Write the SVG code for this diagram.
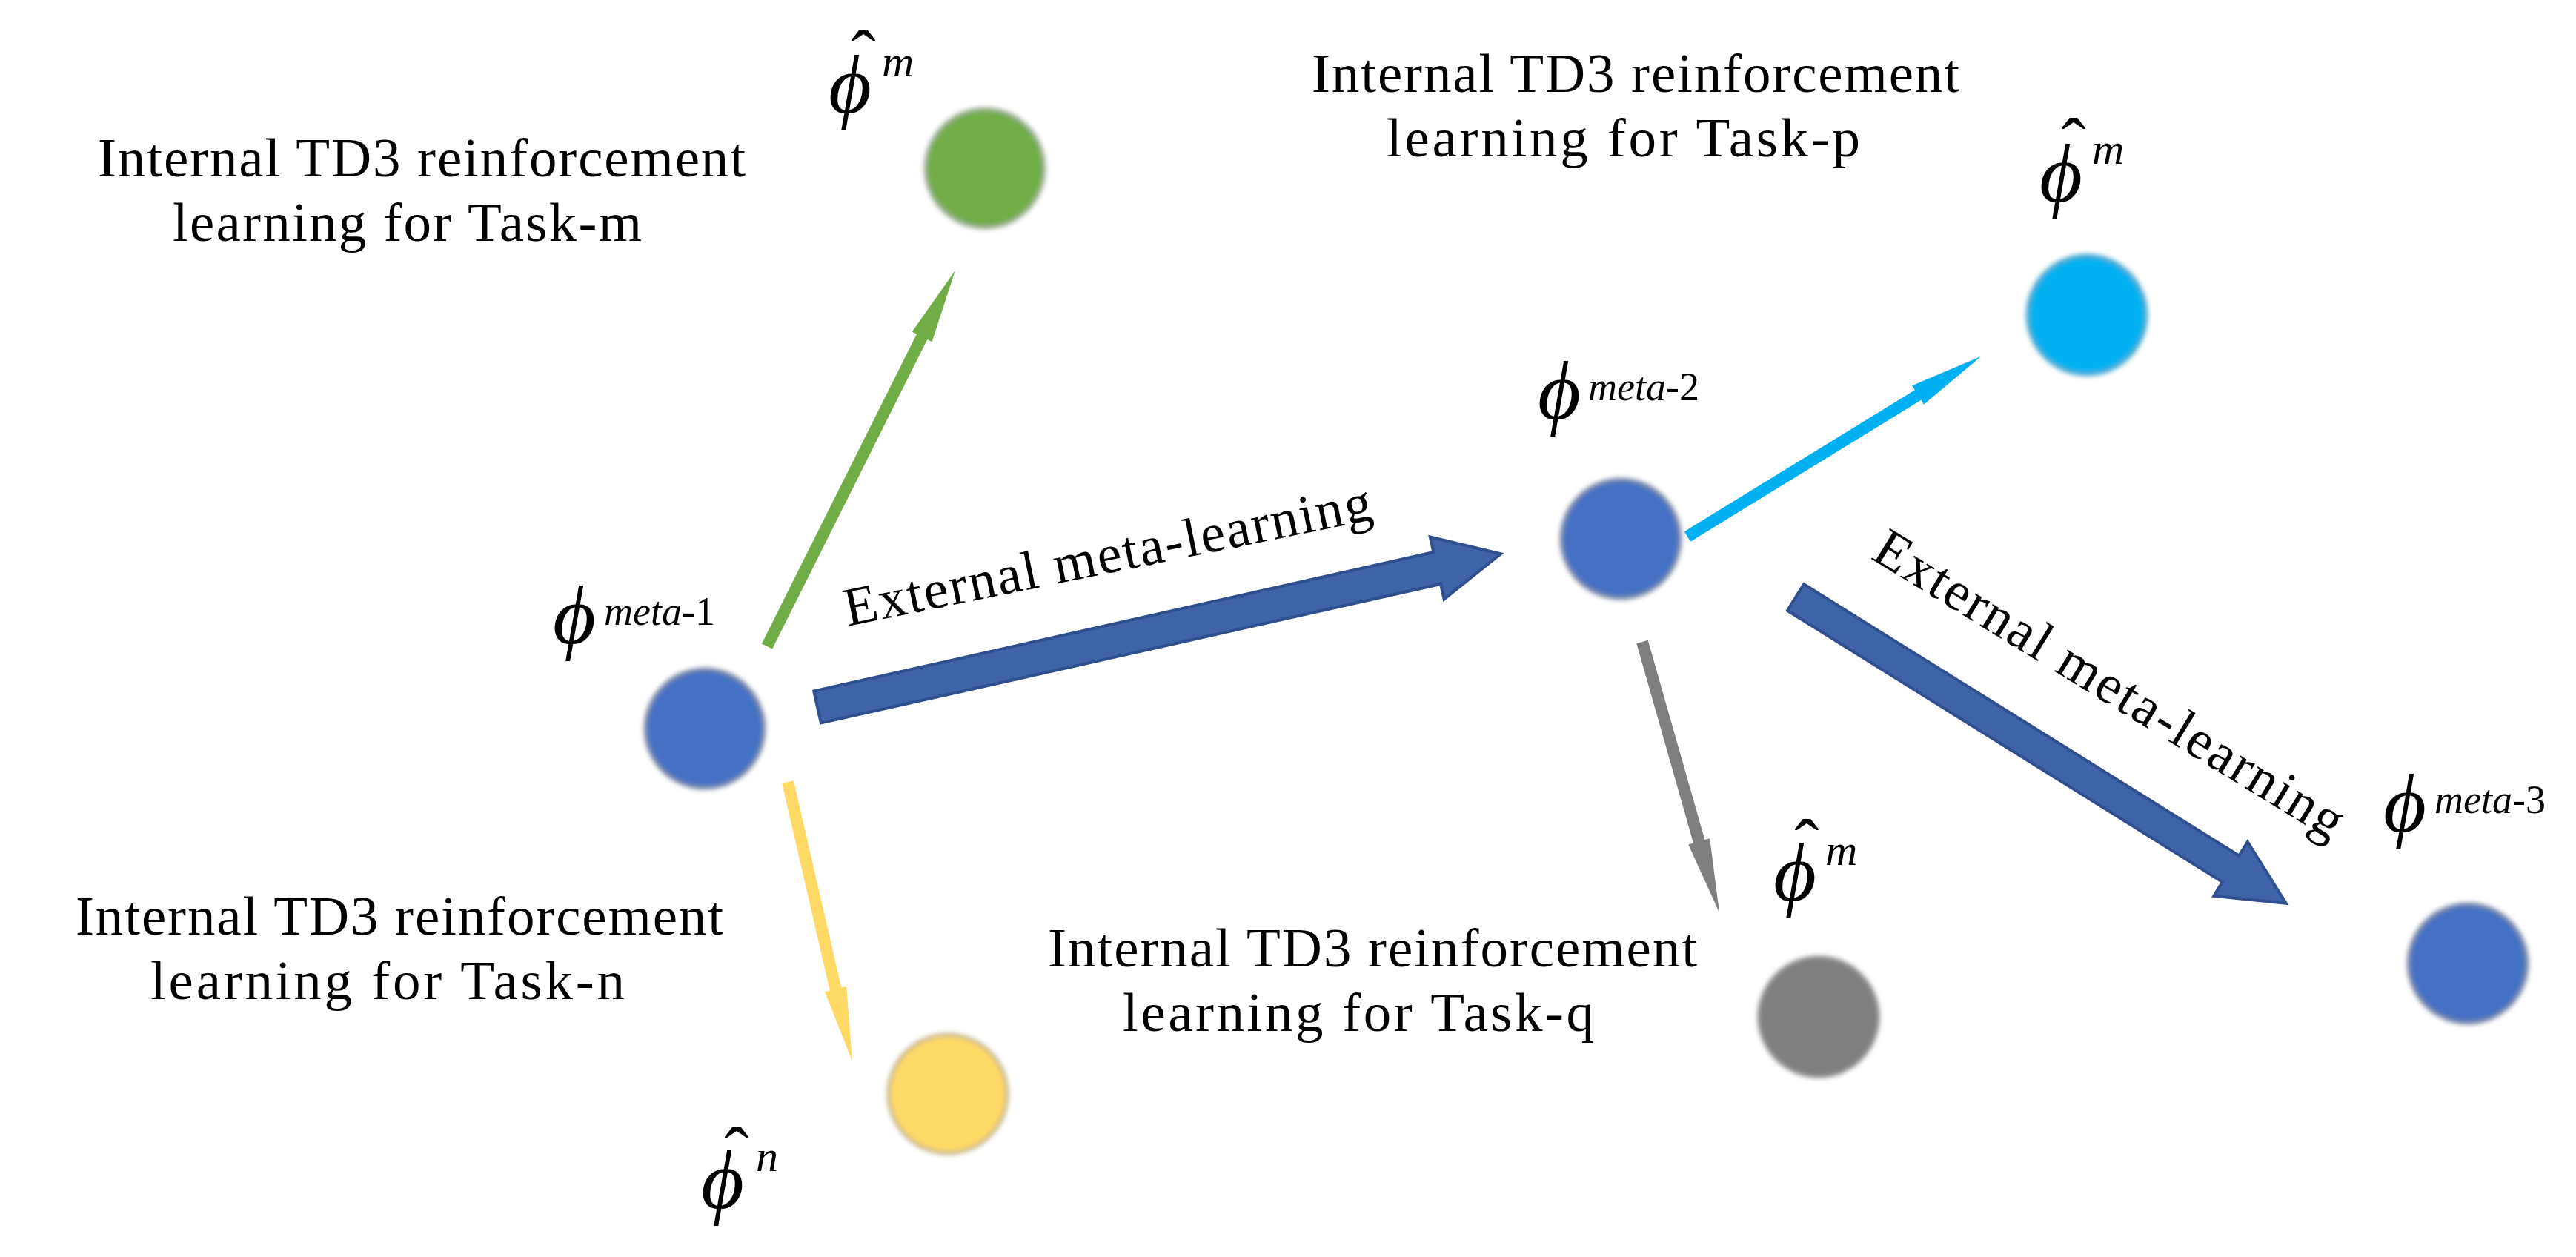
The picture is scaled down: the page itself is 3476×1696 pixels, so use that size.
<svg xmlns="http://www.w3.org/2000/svg" width="3476" height="1696" viewBox="0 0 3476 1696">
<defs>
<filter id="soft" x="-25%" y="-25%" width="150%" height="150%"><feGaussianBlur stdDeviation="3"/></filter>
<style>
.txt{font-family:"Liberation Serif","Times New Roman",serif;font-size:75px;fill:#000}
.ext{font-family:"Liberation Serif","Times New Roman",serif;font-size:74px;fill:#000}
.phi{font-family:"Liberation Serif","DejaVu Serif",serif;font-style:italic;font-size:112px;fill:#000}
.hat{font-style:normal;font-size:100px;text-anchor:middle}
.sup{font-style:italic;font-size:54px}
.supm{font-style:italic;font-size:60px}
.up{font-style:normal}
.big{fill:#3f63a9;stroke:#2f4f8e;stroke-width:4;stroke-linejoin:miter}
.node{filter:url(#soft);stroke-width:5}
</style>
</defs>
<rect width="3476" height="1696" fill="#fff"/>

<g id="connectors">
  <polygon fill="#70ad47" transform="translate(1035,872) rotate(-63.4)" points="0,-8 467,-8 467,-15 567,0 467,15 467,8 0,8"/>
  <polygon fill="#ffd966" transform="translate(1063,1055) rotate(77)" points="0,-8 287,-8 287,-15 387,0 287,15 287,8 0,8"/>
  <polygon fill="#00b0f0" transform="translate(2277,724) rotate(-31.55)" points="0,-8 365,-8 365,-15 465,0 365,15 365,8 0,8"/>
  <polygon fill="#7f7f7f" transform="translate(2216,866) rotate(74.1)" points="0,-8 280,-8 280,-15 380,0 280,15 280,8 0,8"/>
  <polygon class="big" transform="translate(1103,954) rotate(-12.64)" points="0,-22 857,-22 857,-43 945,0 857,43 857,22 0,22"/>
  <polygon class="big" transform="translate(2423,806) rotate(31.96)" points="0,-21 692,-21 692,-43 780,0 692,43 692,21 0,21"/>
  <text class="ext" transform="translate(1144,845) rotate(-11.5)" textLength="725" lengthAdjust="spacing">External meta-learning</text>
  <text class="ext" transform="translate(2523,753) rotate(31.5)" textLength="730" lengthAdjust="spacing">External meta-learning</text>
</g>

<g id="label-task-m">
  <text class="txt" x="132" y="238" textLength="874" lengthAdjust="spacing">Internal TD3 reinforcement</text>
  <text class="txt" x="233" y="325" textLength="633" lengthAdjust="spacing">learning for Task-m</text>
</g>
<g id="label-task-p">
  <text class="txt" x="1770" y="124" textLength="874" lengthAdjust="spacing">Internal TD3 reinforcement</text>
  <text class="txt" x="1871" y="211" textLength="639" lengthAdjust="spacing">learning for Task-p</text>
</g>
<g id="label-task-n">
  <text class="txt" x="102" y="1261" textLength="874" lengthAdjust="spacing">Internal TD3 reinforcement</text>
  <text class="txt" x="203" y="1348" textLength="640" lengthAdjust="spacing">learning for Task-n</text>
</g>
<g id="label-task-q">
  <text class="txt" x="1414" y="1304" textLength="876" lengthAdjust="spacing">Internal TD3 reinforcement</text>
  <text class="txt" x="1515" y="1391" textLength="636" lengthAdjust="spacing">learning for Task-q</text>
</g>

<g id="node-meta-1">
  <circle class="node" cx="951" cy="983" r="80" fill="#4472c4" stroke="#7d8aa6"/>
  <text class="phi" x="746" y="868">ϕ<tspan class="sup" x="815" y="843">meta</tspan><tspan class="sup up">-1</tspan></text>
</g>
<g id="node-m">
  <circle class="node" cx="1329" cy="227" r="80" fill="#70ad47" stroke="#a1b097"/>
  <text class="phi" x="1118" y="152">ϕ<tspan class="hat" x="1165" y="110">ˆ</tspan><tspan class="supm" x="1190" y="103">m</tspan></text>
</g>
<g id="node-n">
  <circle class="node" cx="1279" cy="1476" r="80" fill="#ffd966" stroke="#c4b58c"/>
  <text class="phi" x="946" y="1630">ϕ<tspan class="hat" x="994" y="1590">ˆ</tspan><tspan class="supm" x="1020" y="1580">n</tspan></text>
</g>
<g id="node-meta-2">
  <circle class="node" cx="2187" cy="727" r="80" fill="#4472c4" stroke="#7d8aa6"/>
  <text class="phi" x="2075" y="565">ϕ<tspan class="sup" x="2143" y="540">meta</tspan><tspan class="sup up">-2</tspan></text>
</g>
<g id="node-p">
  <circle class="node" cx="2816" cy="425" r="80" fill="#00b0f0" stroke="#4fa9cc"/>
  <text class="phi" x="2752" y="272">ϕ<tspan class="hat" x="2798" y="229">ˆ</tspan><tspan class="supm" x="2823" y="221">m</tspan></text>
</g>
<g id="node-q">
  <circle class="node" cx="2454" cy="1372" r="80" fill="#7f7f7f" stroke="#8a8a8a"/>
  <text class="phi" x="2393" y="1215">ϕ<tspan class="hat" x="2438" y="1175">ˆ</tspan><tspan class="supm" x="2463" y="1167">m</tspan></text>
</g>
<g id="node-meta-3">
  <circle class="node" cx="3330" cy="1300" r="80" fill="#4472c4" stroke="#7d8aa6"/>
  <text class="phi" x="3216" y="1122">ϕ<tspan class="sup" x="3285" y="1097">meta</tspan><tspan class="sup up">-3</tspan></text>
</g>
</svg>
